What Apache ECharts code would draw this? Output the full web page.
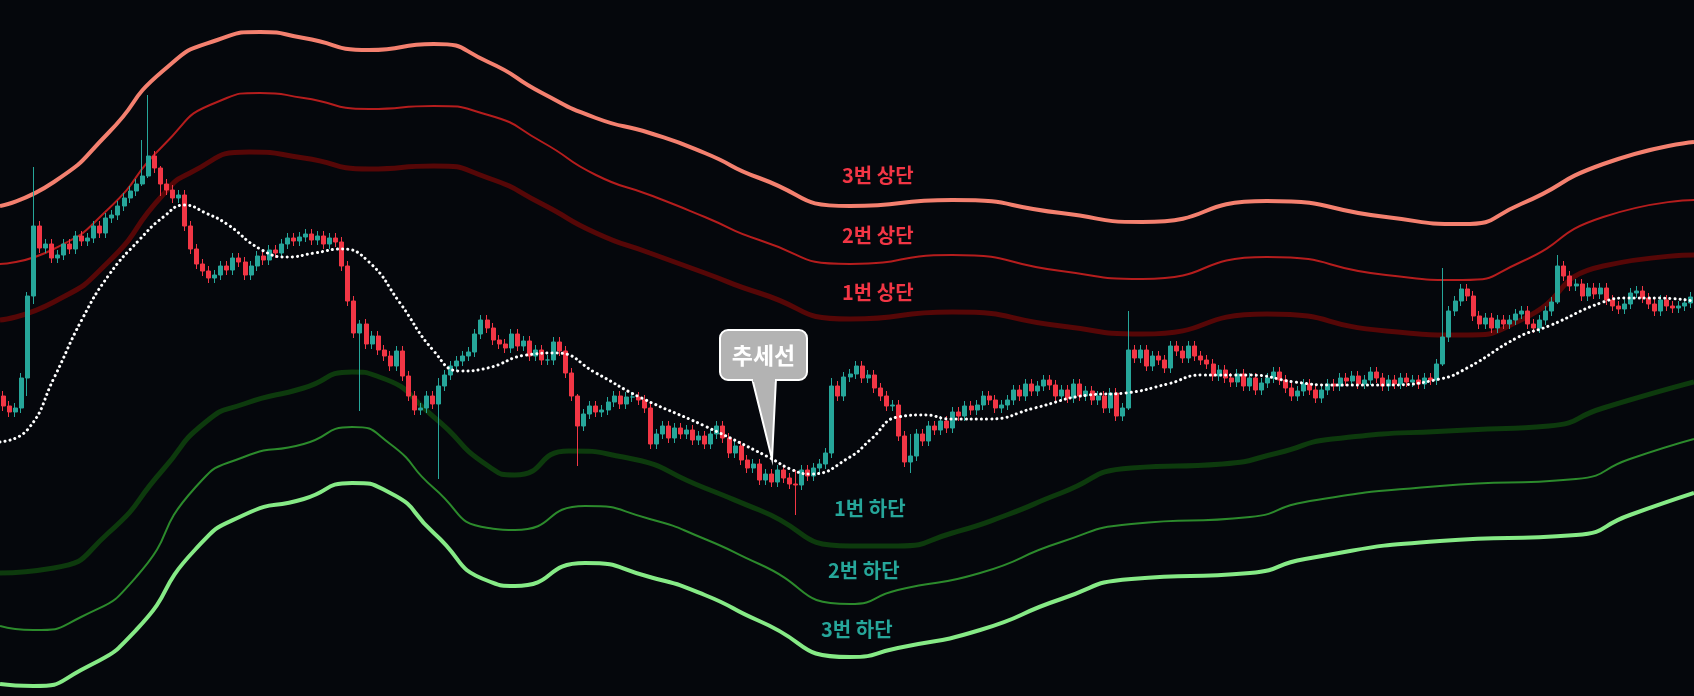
<!DOCTYPE html>
<html>
<head>
<meta charset="utf-8">
<script src="https://cdn.jsdelivr.net/npm/echarts@6/dist/echarts.min.js"></script>
<style>
  html, body { margin: 0; padding: 0; background: #05070c; }
  #chart { width: 1694px; height: 696px; }
</style>
</head>
<body>
<div id="chart"></div>
<script>
// 종가 (캔들 280개)
var closes = [
  290,284,288,318,400,470,448,452,438,441,
  452,447,460,455,458,470,463,478,481,490,
  498,505,512,520,540,528,512,506,498,501,
  470,447,432,425,418,421,430,426,438,434,
  421,430,440,436,446,443,452,458,455,459,
  462,456,460,452,458,454,430,395,363,372,
  352,360,346,340,330,345,320,300,286,288,
  300,292,310,321,330,335,340,344,362,376,
  368,356,352,348,362,350,355,340,346,336,
  336,354,345,323,300,270,282,290,284,286,
  294,300,292,299,299,296,288,252,262,270,
  258,268,262,266,256,260,252,262,270,258,
  243,250,236,228,232,216,222,214,226,218,
  212,211,226,220,228,232,243,310,300,319,
  322,330,318,321,308,300,290,291,260,234,
  240,262,255,270,266,275,268,284,280,290,
  286,291,300,296,288,291,296,306,300,312,
  305,310,316,311,300,306,298,312,300,305,
  296,300,288,303,280,288,346,338,346,330,
  340,336,328,350,345,338,350,340,336,332,
  320,326,318,314,322,310,318,306,313,318,
  324,316,308,300,305,312,306,298,306,312,
  310,318,315,320,312,316,324,318,310,316,
  312,318,314,316,312,318,316,332,359,385,
  395,407,400,380,372,378,368,376,372,376,
  382,385,372,368,376,385,394,430,420,410,
  412,400,408,402,408,396,390,387,392,403,
  405,398,392,385,396,390,388,390,393,399
];
var firstOpen = 300;
// 긴 꼬리: [index, high, low]
var longWicks = [
  [4, 404, 300], [5, 529, 392], [23, 556, 510], [24, 601, 518], [26, 530, 500],
  [59, 376, 285], [72, 318, 217], [95, 302, 230], [131, 226, 181], [137, 318, 238],
  [150, 262, 223], [186, 385, 286], [238, 428, 330], [257, 441, 392]
];
var wick = 5;

// 밴드 / 추세선: [x(캔들 단위), 가격]
var upper3 = [[0,490],[8.9,514],[17.9,563],[26.9,625],[35.9,656],[43,664],[50.2,658],[61,646],[71.7,652],[80.7,634],[89.6,603],[98.5,578],[107.4,563],[116.5,543],[125.5,518],[140.5,490],[157.4,496],[175.4,483],[188.8,474],[209.4,495],[229.1,479],[241.7,472],[251.4,492],[265,532],[280,554]];
var upper2 = [[0,432],[8.9,447],[17.9,487],[26.9,550],[35.9,594],[43,603],[50.2,598],[61,587],[71.7,590],[80.7,581],[89.6,554],[98.5,521],[107.4,501],[116.5,479],[125.5,456],[140.5,432],[157.4,441],[175.4,425],[188.8,417],[209.4,439],[229.1,421],[241.7,416],[251.4,434],[265,479],[280,496]];
var upper1 = [[0,376],[8.9,394],[17.9,434],[26.9,501],[31.4,523],[41.2,544],[50.2,538],[61,527],[71.7,530],[80.7,518],[89.6,492],[98.5,463],[107.4,443],[116.5,423],[125.5,403],[140.5,377],[157.4,384],[175.4,370],[188.8,362],[209.4,382],[229.1,365],[241.7,361],[251.4,376],[265,430],[280,441]];
var lower1 = [[0,123],[8.9,128],[17.9,163],[26.9,226],[34,274],[40.3,292],[50.2,308],[58.2,324],[62.7,319],[71.7,279],[80.7,230],[85.1,221],[94,245],[103,239],[116.5,208],[125.5,186],[140.5,150],[148.4,150],[157.4,163],[166.4,181],[175.4,203],[187,228],[202.1,232],[211.2,243],[220.2,257],[242.5,266],[256,270],[265,288],[280,314]];
var lower2 = [[0,70],[5.5,66],[13.4,79],[22.5,119],[32.2,208],[40.3,239],[50.2,252],[58.2,269],[64.5,252],[71.7,208],[80.7,168],[85.1,166],[96.7,190],[107.4,177],[116.5,157],[125.5,132],[140.5,92],[148.4,106],[162,123],[175.4,154],[187,172],[206.6,179],[215.7,194],[238,210],[260.5,217],[269.4,237],[280,257]];
var lower3 = [[0,12],[5.5,10],[13.4,26],[22.5,66],[32.2,146],[40.3,181],[50.2,197],[58.2,213],[64.5,203],[71.7,163],[80.7,115],[85.1,110],[96.7,133],[107.4,119],[116.5,101],[125.5,75],[140.5,39],[148.4,48],[162,66],[175.4,97],[187,117],[206.6,123],[215.7,137],[238,155],[260.5,161],[269.4,181],[280,203]];
var trend = [[0,254],[4.5,266],[9,319],[13.5,376],[18,421],[23,456],[27,479],[30.5,491],[34,483],[37.5,472],[43,447],[47.5,439],[52,443],[56.5,447],[61,434],[66,394],[71.7,345],[76,325],[80.6,328],[87,341],[92,343],[98.5,323],[105.7,299],[116.5,270],[127,239],[131,226],[134,222],[140.5,239],[144,257],[148.4,279],[153,281],[157,277],[163.6,277],[171,288],[180,301],[186,303],[193,312],[198.6,321],[206.6,321],[214,314],[220,311],[229,311],[238,317],[242.5,328],[251,359],[256,370],[265,394],[269,398],[274,398],[280,395]];

var bandLabels = [
  { name: '3번 상단', x: 842, y: 178, color: '#f23645' },
  { name: '2번 상단', x: 842, y: 238, color: '#f23645' },
  { name: '1번 상단', x: 842, y: 295, color: '#f23645' },
  { name: '1번 하단', x: 834, y: 511, color: '#26a69a' },
  { name: '2번 하단', x: 828, y: 573, color: '#26a69a' },
  { name: '3번 하단', x: 821, y: 632, color: '#26a69a' }
];

var cats = [];
var ohlc = [];
var prev = firstOpen;
for (var i = 0; i < closes.length; i++) {
  cats.push(i);
  var o = prev, c = closes[i];
  ohlc.push([o, c, Math.min(o, c) - wick, Math.max(o, c) + wick]);
  prev = c;
}
longWicks.forEach(function (w) {
  ohlc[w[0]][3] = w[1];
  ohlc[w[0]][2] = w[2];
});

function band(data, color, width) {
  return {
    type: 'line', xAxisIndex: 1, data: data, smooth: 0.6, symbol: 'none', silent: true,
    lineStyle: { color: color, width: width }, z: 1
  };
}

var chart = echarts.init(document.getElementById('chart'));
var font = '"Noto Sans CJK KR", "Noto Sans", sans-serif';
var graphics = bandLabels.map(function (b) {
  return {
    type: 'text', left: b.x, top: b.y - 13, z: 100,
    style: { text: b.name, fill: b.color, font: 'bold 20px ' + font }
  };
});
graphics.push({
  type: 'polygon', z: 100,
  shape: { points: [[752, 378], [772, 459], [776, 378]] },
  style: { fill: '#b3b3b3', stroke: '#ffffff', lineWidth: 2 }
});
graphics.push({
  type: 'rect', z: 101,
  shape: { x: 720, y: 330, width: 87, height: 50, r: 8 },
  style: { fill: '#b3b3b3', stroke: '#ffffff', lineWidth: 2 }
});
graphics.push({
  type: 'rect', z: 102,
  shape: { x: 753, y: 376, width: 22, height: 6 },
  style: { fill: '#b3b3b3' }
});
graphics.push({
  type: 'text', z: 103, x: 763.5, y: 355,
  style: { text: '추세선', fill: '#ffffff', font: 'bold 23px ' + font, align: 'center', verticalAlign: 'middle' }
});

chart.setOption({
  backgroundColor: '#05070c',
  animation: false,
  grid: { left: 0, right: 0, top: 0, bottom: 0 },
  xAxis: [
    { type: 'category', data: cats, show: false, boundaryGap: true },
    { type: 'value', min: 0, max: 280, show: false }
  ],
  yAxis: { type: 'value', min: 0, max: 696, show: false },
  series: [
    band(upper3, '#f4806f', 4),
    band(upper2, '#b51d1d', 2),
    band(upper1, '#560707', 5),
    band(lower1, '#0d3a0d', 5),
    band(lower2, '#2c8a2c', 2),
    band(lower3, '#86ea86', 4),
    {
      type: 'candlestick', data: ohlc, barWidth: '75%', z: 3,
      itemStyle: { color: '#26a69a', color0: '#f23645', borderColor: '#26a69a', borderColor0: '#f23645', borderWidth: 1 }
    },
    {
      type: 'line', xAxisIndex: 1, data: trend, smooth: 0.5, symbol: 'none', z: 4,
      lineStyle: { color: '#ffffff', width: 3, type: [0.1, 5], cap: 'round' }
    }
  ],
  graphic: graphics
});
</script>
</body>
</html>
